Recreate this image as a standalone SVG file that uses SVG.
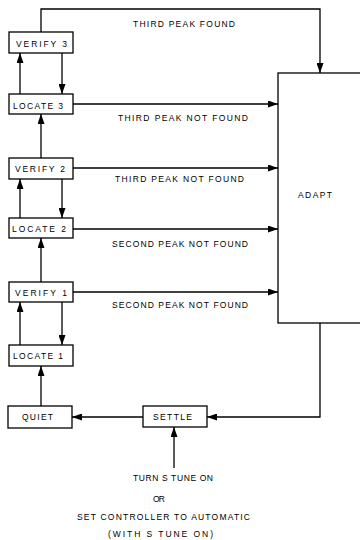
<svg xmlns="http://www.w3.org/2000/svg" width="360" height="540" viewBox="0 0 360 540">
<style>
.box{fill:#fff;stroke:#000;stroke-width:1.3}
.ln{fill:none;stroke:#000;stroke-width:1.3}
text{font-family:"Liberation Sans","DejaVu Sans",sans-serif;font-size:8.5px;fill:#000}
</style>
<defs>
<marker id="ah" viewBox="0 0 10 7" refX="10" refY="3.5" markerWidth="10" markerHeight="7" markerUnits="userSpaceOnUse" orient="auto">
<path d="M0,0 L10,3.5 L0,7 Z" fill="#000"/>
</marker>
</defs>
<rect width="360" height="540" fill="#fff"/>
<g id="connectors">
<path class="ln" d="M41,32 V9 H320 V73" marker-end="url(#ah)"/>
<path class="ln" d="M73,104 H278" marker-end="url(#ah)"/>
<path class="ln" d="M73,168 H278" marker-end="url(#ah)"/>
<path class="ln" d="M73,229 H278" marker-end="url(#ah)"/>
<path class="ln" d="M73,292 H278" marker-end="url(#ah)"/>
<path class="ln" d="M320,323 V417 H207" marker-end="url(#ah)"/>
<path class="ln" d="M143,417 H72" marker-end="url(#ah)"/>
<path class="ln" d="M41,406 V366" marker-end="url(#ah)"/>
<path class="ln" d="M20,345 V302" marker-end="url(#ah)"/>
<path class="ln" d="M62,302 V345" marker-end="url(#ah)"/>
<path class="ln" d="M41,282 V238" marker-end="url(#ah)"/>
<path class="ln" d="M20,218 V179" marker-end="url(#ah)"/>
<path class="ln" d="M62,179 V218" marker-end="url(#ah)"/>
<path class="ln" d="M41,158 V114" marker-end="url(#ah)"/>
<path class="ln" d="M20,94 V53" marker-end="url(#ah)"/>
<path class="ln" d="M62,53 V94" marker-end="url(#ah)"/>
<path class="ln" d="M174,468 V427" marker-end="url(#ah)"/>
<text x="133" y="27" textLength="102" lengthAdjust="spacing">THIRD PEAK FOUND</text>
<text x="118" y="121" textLength="130" lengthAdjust="spacing">THIRD PEAK NOT FOUND</text>
<text x="115" y="182" textLength="129" lengthAdjust="spacing">THIRD PEAK NOT FOUND</text>
<text x="112" y="247" textLength="136" lengthAdjust="spacing">SECOND PEAK NOT FOUND</text>
<text x="112" y="308" textLength="136" lengthAdjust="spacing">SECOND PEAK NOT FOUND</text>
<text x="133" y="481" textLength="80" lengthAdjust="spacing">TURN S TUNE ON</text>
<text x="153" y="502" textLength="12" lengthAdjust="spacing">OR</text>
<text x="77" y="520" textLength="173" lengthAdjust="spacing">SET CONTROLLER TO AUTOMATIC</text>
<text x="108" y="537" textLength="105" lengthAdjust="spacing">(WITH S TUNE ON)</text>
</g>
<g id="adapt"><rect class="box" x="278" y="73" width="90" height="250"/><text x="298" y="198" textLength="34" lengthAdjust="spacing">ADAPT</text></g>
<g id="verify3"><rect class="box" x="9" y="32" width="64" height="21"/><text x="16" y="47" textLength="51" lengthAdjust="spacing">VERIFY 3</text></g>
<g id="locate3"><rect class="box" x="9" y="94" width="64" height="20"/><text x="13" y="109" textLength="50" lengthAdjust="spacing">LOCATE 3</text></g>
<g id="verify2"><rect class="box" x="9" y="158" width="64" height="21"/><text x="15" y="172" textLength="50" lengthAdjust="spacing">VERIFY 2</text></g>
<g id="locate2"><rect class="box" x="9" y="218" width="64" height="20"/><text x="12" y="232" textLength="54" lengthAdjust="spacing">LOCATE 2</text></g>
<g id="verify1"><rect class="box" x="9" y="282" width="64" height="20"/><text x="15" y="296" textLength="52" lengthAdjust="spacing">VERIFY 1</text></g>
<g id="locate1"><rect class="box" x="9" y="345" width="64" height="21"/><text x="13" y="359" textLength="50" lengthAdjust="spacing">LOCATE 1</text></g>
<g id="quiet"><rect class="box" x="8" y="406" width="64" height="22"/><text x="22" y="420" textLength="31" lengthAdjust="spacing">QUIET</text></g>
<g id="settle"><rect class="box" x="143" y="406" width="64" height="21"/><text x="153" y="420" textLength="39" lengthAdjust="spacing">SETTLE</text></g>
</svg>
